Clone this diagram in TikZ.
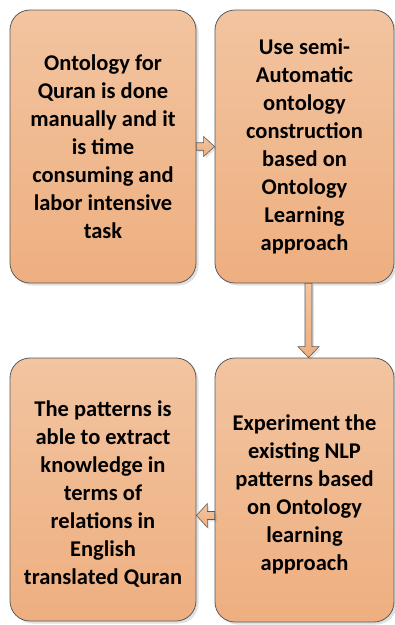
\documentclass[tikz,border=0pt]{standalone}
\usepackage{fontspec}
\setmainfont{Carlito}
\usetikzlibrary{calc,shadows}

\definecolor{peachtop}{HTML}{F2C4A0}
\definecolor{peachbot}{HTML}{EEAF80}
\definecolor{edgegray}{HTML}{5A5A5A}

\tikzset{
  panel/.style={rounded corners=20pt, draw=edgegray, line width=0.8pt,
    top color=peachtop, bottom color=peachbot,
    drop shadow={shadow xshift=2.5pt, shadow yshift=-2.5pt, fill=black, opacity=0.12}},
  paneltext/.style={align=center, font=\fontsize{22.5}{28}\selectfont\bfseries, text=black},
  blockarrow/.style={draw=edgegray, line width=0.6pt, line join=miter,
    top color=peachtop, bottom color=peachbot,
    drop shadow={shadow xshift=2pt, shadow yshift=-2pt, fill=black, opacity=0.10}}
}

\begin{document}
\begin{tikzpicture}[x=1pt, y=-1pt]
  \useasboundingbox[fill=white] (0,0) rectangle (395,625);

  % the four panels
  \node[panel, minimum width=186pt, minimum height=273pt] (A) at (103,146.5) {};
  \node[panel, minimum width=179pt, minimum height=273pt] (B) at (304.5,146.5) {};
  \node[panel, minimum width=186pt, minimum height=263pt] (C) at (103,489.5) {};
  \node[panel, minimum width=179pt, minimum height=264pt] (D) at (304.5,490) {};

  % panel texts
  \node[paneltext] (At) at (A.center) {Ontology for\\Quran is done\\manually and it\\is time\\consuming and\\labor intensive\\task};
  \node[paneltext] (Bt) at (B.center) {Use semi-\\Automatic\\ontology\\construction\\based on\\Ontology\\Learning\\approach};
  \node[paneltext] (Ct) at ($(C.center)+(0,5)$) {The patterns is\\able to extract\\knowledge in\\terms of\\relations in\\English\\translated Quran};
  \node[paneltext] (Dt) at ($(D.center)+(0,4.5)$) {Experiment the\\existing NLP\\patterns based\\on Ontology\\learning\\approach};

  % A -> B
  \draw[blockarrow]
    ($(A.east)+(0,-3.75)$) -- ($(B.west)+(-11,-3.75)$) -- ($(B.west)+(-11,-10)$)
    -- (B.west) -- ($(B.west)+(-11,10)$) -- ($(B.west)+(-11,3.75)$)
    -- ($(A.east)+(0,3.75)$) -- cycle;

  % B -> D
  \draw[blockarrow]
    ($(B.south)+(0.5,0)$) -- ($(D.north)+(0.5,-11)$) -- ($(D.north)+(-6.5,-11)$)
    -- ($(D.north)+(4,0)$) -- ($(D.north)+(14.5,-11)$) -- ($(D.north)+(7.5,-11)$)
    -- ($(B.south)+(7.5,0)$) -- cycle;

  % D -> C
  \draw[blockarrow]
    ($(D.west)+(0,21.5)$) -- ($(C.east)+(11,22)$) -- ($(C.east)+(11,14)$)
    -- ($(C.east)+(0,26)$) -- ($(C.east)+(11,38)$) -- ($(C.east)+(11,30)$)
    -- ($(D.west)+(0,29.5)$) -- cycle;
\end{tikzpicture}
\end{document}
